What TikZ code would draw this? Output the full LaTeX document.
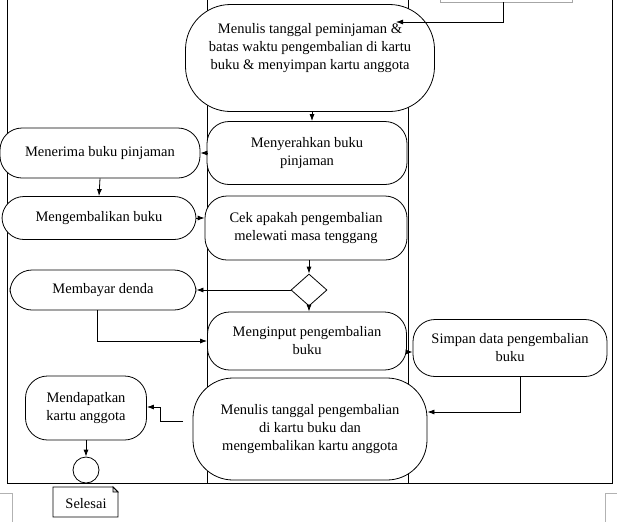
\documentclass[tikz,border=0pt]{standalone}
\usepackage{fontspec}
\setmainfont{Liberation Serif}
\usetikzlibrary{shapes.geometric,arrows.meta}
\begin{document}
\begin{tikzpicture}[x=1pt,y=-1pt,line width=0.8pt,
  act/.style={draw,rounded corners=22pt,align=center,inner sep=2pt},
  arr/.style={-{Latex[length=7pt,width=5pt]}},
  every node/.style={font=\fontsize{14.5}{18}\selectfont}]
\useasboundingbox (0,0) rectangle (617,522);
% frame and lanes
\draw (7,-2) -- (7,483) -- (612,483) -- (612,-2);
\draw (207,-2) -- (207,483);
\draw (408,-2) -- (408,483);
\draw[gray!70] (440,-5) rectangle (572,2);
\draw[gray!60,line width=0.5pt] (0,493) -- (12,493) (12,493) -- (12,522);
\draw[gray!60,line width=0.5pt] (617,493) -- (605,493) (605,493) -- (605,522);
% nodes
\node[act,fill=white,minimum width=249pt,minimum height=107pt,rounded corners=45pt] (b1) at (310,58) {Menulis tanggal peminjaman \&\\batas waktu pengembalian di kartu\\buku \& menyimpan kartu anggota\\[6pt]};
\node[act,fill=white,minimum width=200pt,minimum height=63pt] (b2) at (307,153) {Menyerahkan buku\\pinjaman};
\node[act,fill=white,minimum width=200pt,minimum height=50pt] (l1) at (100,153) {Menerima buku pinjaman};
\node[act,fill=white,minimum width=194pt,minimum height=43pt] (l2) at (99,218) {Mengembalikan buku};
\node[act,fill=white,minimum width=202pt,minimum height=64pt] (b3) at (306,228) {Cek apakah pengembalian\\melewati masa tenggang};
\node[draw,fill=white,diamond,minimum width=36pt,minimum height=32pt,inner sep=0pt] (d) at (309,290) {};
\node[act,fill=white,minimum width=186pt,minimum height=40pt] (l3) at (103,290) {Membayar denda};
\node[act,fill=white,minimum width=199pt,minimum height=58pt] (b4) at (307,341) {Menginput pengembalian\\buku};
\node[act,fill=white,minimum width=194pt,minimum height=57pt] (r1) at (510,348) {Simpan data pengembalian\\buku};
\node[act,fill=white,minimum width=234pt,minimum height=102pt,rounded corners=40pt] (b5) at (310,429) {Menulis tanggal pengembalian\\di kartu buku dan\\mengembalikan kartu anggota};
\node[act,fill=white,minimum width=121pt,minimum height=64pt] (l4) at (86,408) {Mendapatkan\\kartu anggota};
\node[draw,fill=white,circle,minimum size=26pt,inner sep=0pt] (end) at (86,470) {};
\draw[fill=white] (53,487) -- (113,487) -- (118,492) -- (118,517) -- (53,517) -- cycle;
\draw[fill=gray!30] (113,487) -- (118,492) -- (113,492) -- cycle;
\node[inner sep=0pt] (note) at (86,504) {Selesai};
% connectors
\coordinate (t1) at (503,2);
\draw[arr] (t1) |- (396,22);
\draw[arr] (b1.south -| 312,0) -- (b2.north -| 312,0);
\draw[arr] (b2.west) -- (l1.east);
\draw[arr] (l1.south) -- (l2.north);
\draw[arr] (l2.east) -- (b3.west |- l2.east);
\draw[arr] (b3.south -| d.north) -- (d.north);
\draw[arr] (d.west) -- (l3.east);
\draw[arr] (d.south) -- (b4.north -| d.south);
\draw[arr] (l3.south -| 97,0) |- (b4.west);
\draw[arr] (b4.east |- 0,352) -- (r1.west |- 0,352);
\draw[arr] (r1.south -| 520,0) |- (b5.east |- 0,412);
\draw[arr] (183,421) -- (160,421) |- (l4.east |- 0,407);
\draw[arr] (l4.south) -- (end.north);
\end{tikzpicture}
\end{document}
